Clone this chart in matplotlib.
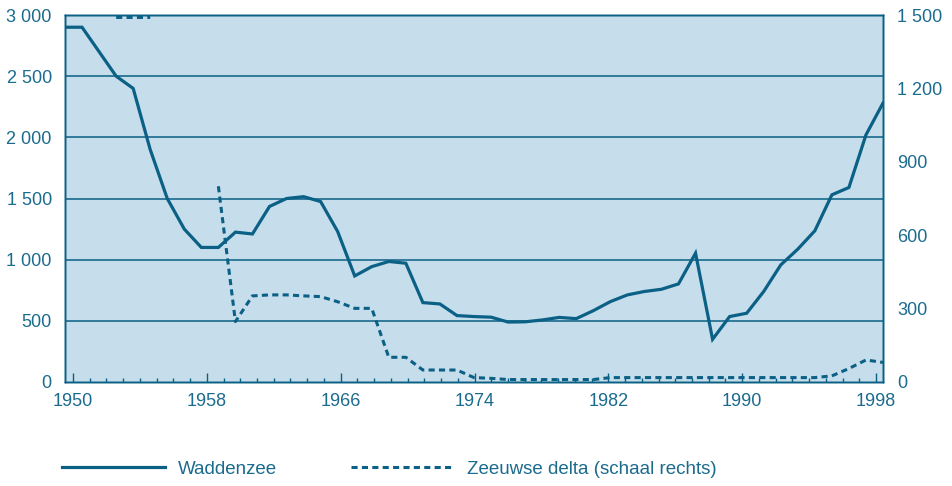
import numpy as np
import matplotlib
matplotlib.use("Agg")
import matplotlib.pyplot as plt
from matplotlib.ticker import FuncFormatter, MultipleLocator

plt.rcParams['font.family'] = ['Liberation Sans', 'DejaVu Sans']

years = list(range(1950, 1999))

waddenzee = [2900, 2900, 2700, 2500, 2400, 1900, 1500, 1250, 1100, 1100,
             1225, 1210, 1435, 1500, 1515, 1475, 1230, 867, 943, 985,
             971, 649, 638, 543, 535, 530, 490, 492, 507, 528,
             518, 583, 657, 712, 740, 758, 802, 1053, 349, 535,
             562, 740, 957, 1086, 1236, 1530, 1590, 2020, 2280]

nan = np.nan
zeeuwse_delta = [nan, nan, nan, 1490, 1490, 1490, nan, nan, nan, 800,
                 247, 352, 356, 356, 352, 349, 328, 301, 301, 101,
                 101, 49, 49, 49, 18, 15, 10, 10, 10, 10,
                 10, 10, 18, 18, 18, 18, 18, 18, 18, 18,
                 18, 18, 18, 18, 18, 25, 55, 90, 80]

left_ticks = [0, 500, 1000, 1500, 2000, 2500, 3000]
right_ticks = [0, 300, 600, 900, 1200, 1500]
year_ticks = [1950, 1958, 1966, 1974, 1982, 1990, 1998]

teal = '#0b6085'
text_col = '#1b6b8e'
bg = '#c6ddec'
fs = 13

fig = plt.figure(figsize=(9.53, 4.86), dpi=100)
ax = fig.add_axes([65 / 953, 1 - 382 / 486, (883 - 65) / 953, (382 - 15) / 486])
ax.set_facecolor(bg)

def space_thousands(v, pos=None):
    return f"{int(v):,}".replace(",", " ")

# left scale: Waddenzee
ax.set_xlim(1950, 1998)
ax.set_ylim(0, 3000)
ax.set_yticks(left_ticks)
ax.yaxis.set_major_formatter(FuncFormatter(space_thousands))
ax.tick_params(axis='y', length=0, pad=9.5, labelsize=fs, labelcolor=text_col)
ax.set_xticks([])
for y in left_ticks[1:-1]:
    ax.axhline(y, color=teal, lw=1.1, zorder=1)

line_w, = ax.plot(years, waddenzee, color=teal, lw=2.3, zorder=3,
                  solid_joinstyle='miter', label='Waddenzee')

# right scale: Zeeuwse delta
ax2 = ax.twinx()
ax2.set_ylim(0, 1500)
ax2.set_yticks(right_ticks)
ax2.yaxis.set_major_formatter(FuncFormatter(space_thousands))
ax2.tick_params(axis='y', length=0, pad=10, labelsize=fs, labelcolor=text_col)
line_z, = ax2.plot(years, zeeuwse_delta, color=teal, lw=2.2, zorder=3,
                   linestyle=(0, (2.0, 1.4)), label='Zeeuwse delta (schaal rechts)')

# year axis with inward ticks
axt = ax.twiny()
axt.set_xlim(1949.52, 1998.42)
axt.xaxis.set_ticks_position('bottom')
axt.xaxis.set_label_position('bottom')
axt.set_xticks(year_ticks)
axt.xaxis.set_minor_locator(MultipleLocator(1))
axt.tick_params(axis='x', which='major', direction='in', length=6.5, width=1,
                color=teal, pad=8, labelsize=fs, labelcolor=text_col)
axt.tick_params(axis='x', which='minor', direction='in', length=3, width=1,
                color=teal)

for a in (ax, ax2, axt):
    for s in a.spines.values():
        s.set_color(teal)
        s.set_linewidth(1.0)

fig.legend(handles=[line_w, line_z], loc='center left',
           bbox_to_anchor=(62 / 953, 1 - 469 / 486), ncol=2, frameon=False,
           fontsize=13.5, labelcolor=text_col, handlelength=5.5,
           handletextpad=0.7, columnspacing=3.9, borderpad=0, borderaxespad=0)

fig.savefig('out.png', dpi=100)
